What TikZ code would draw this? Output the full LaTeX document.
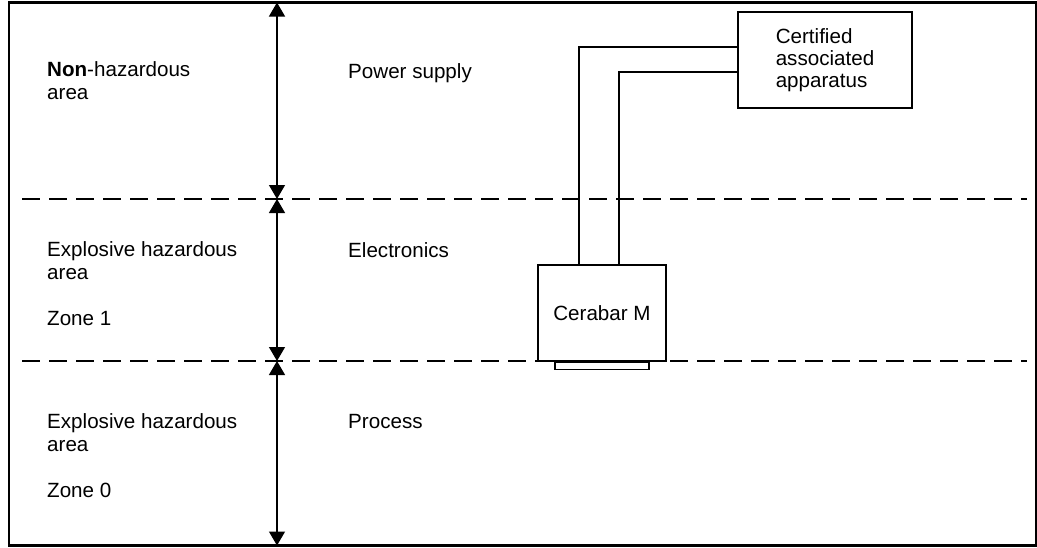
\documentclass[tikz,border=0pt]{standalone}
\usepackage{fontspec}
\setmainfont{Liberation Sans}
\usetikzlibrary{arrows.meta}

\begin{document}
\begin{tikzpicture}[x=1pt, y=-1pt]

% Stili
\tikzset{
  testo/.style={anchor=base west, inner sep=0pt, align=left, font=\fontsize{20.6}{22.7}\selectfont},
  scatola/.style={draw, line width=1.3pt, inner sep=0pt, align=left, font=\fontsize{20.6}{22}\selectfont},
  confine/.style={line width=1.3pt, dash pattern=on 18pt off 9pt},
  freccia/.style={line width=1.3pt, -{Triangle[length=14pt,width=16pt]}},
  filo/.style={line width=1.3pt}
}

% Ascissa della quota verticale
\def\xq{277}

\useasboundingbox (0,0) rectangle (1037,547);

% Cornice
\draw[line width=2.4pt] (9,2.5) rectangle (1036,545.5);

% Linee di separazione delle zone
\coordinate (s1w) at (22,199);
\coordinate (s1e) at (1027,199);
\coordinate (s2w) at (22,361);
\coordinate (s2e) at (1027,361);
\draw[confine] (s1w) -- (s1e);
\draw[confine] (s2w) -- (s2e);

% Quote verticali
\coordinate (q0) at (\xq,2.5);
\coordinate (q1) at (\xq,199);
\coordinate (q2) at (\xq,361);
\coordinate (q3) at (\xq,545.5);
\coordinate (qm1) at (\xq,100);
\coordinate (qm2) at (\xq,280);
\coordinate (qm3) at (\xq,453);
\draw[freccia] (qm1) -- (q0);
\draw[freccia] (qm1) -- (q1);
\draw[freccia] (qm2) -- (q1);
\draw[freccia] (qm2) -- (q2);
\draw[freccia] (qm3) -- (q2);
\draw[freccia] (qm3) -- (q3);

% Etichette delle aree (ancorate alla linea di base dell'ultima riga)
\node[testo] (nonhaz) at (47,99.5) {\textbf{Non}-hazardous\\area};
\node[testo] (zona1) at (47,325) {Explosive hazardous\\area\\[22.7pt]Zone 1};
\node[testo] (zona0) at (47,497) {Explosive hazardous\\area\\[22.7pt]Zone 0};

\node[testo] (alim) at (348,78) {Power supply};
\node[testo] (elettr) at (348,257) {Electronics};
\node[testo] (proc) at (348,428) {Process};

% Apparecchi
\node[scatola, minimum width=174pt, minimum height=96pt] (cert) at (825,60) {Certified\\associated\\apparatus};
\node[scatola, minimum width=128pt, minimum height=96pt] (cerabar) at (602,313) {Cerabar M};
\node[draw, line width=1.3pt, inner sep=0pt, minimum width=94pt, minimum height=7pt, anchor=north] (attacco) at (cerabar.south) {};

% Collegamenti
\coordinate (w1) at (579,47);
\coordinate (w2) at (619,72);
\draw[filo] (cert.west |- w1) -| (cerabar.north -| w1);
\draw[filo] (cert.west |- w2) -| (cerabar.north -| w2);

\end{tikzpicture}
\end{document}
